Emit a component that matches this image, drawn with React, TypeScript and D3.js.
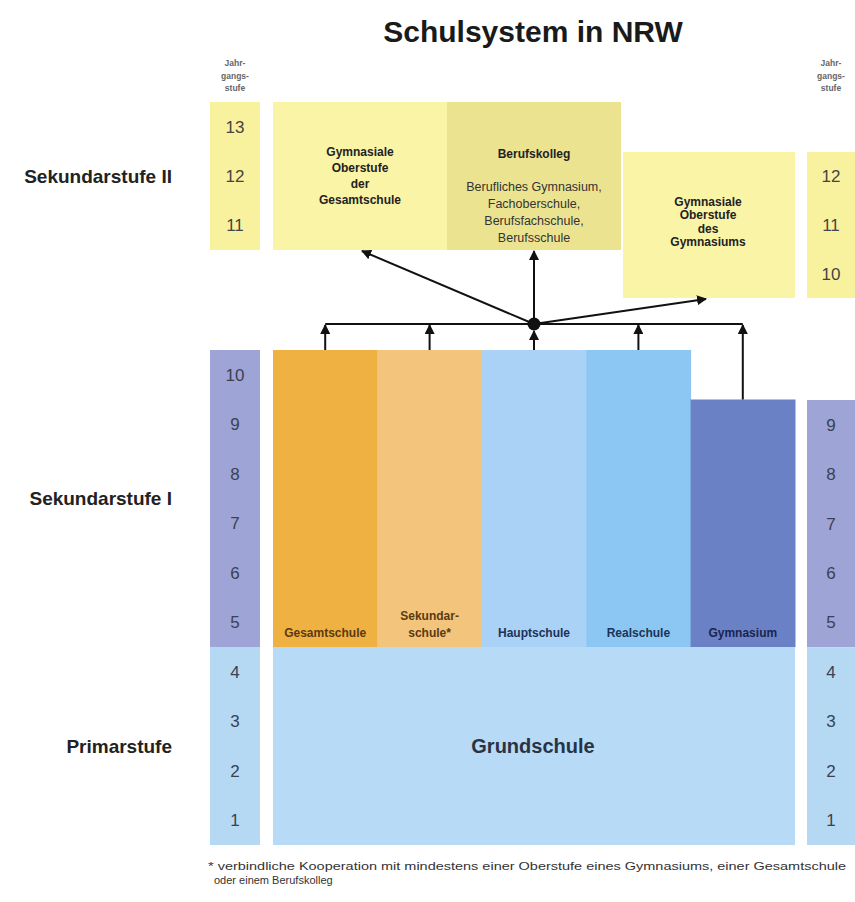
import * as d3 from "d3";

// grades shown in the side columns
const leftLowerGrades = [1, 2, 3, 4, 5, 6, 7, 8, 9, 10];
const leftUpperGrades = [11, 12, 13];
const rightLowerGrades = [1, 2, 3, 4, 5, 6, 7, 8, 9];
const rightUpperGrades = [10, 11, 12];
const lastPrimaryGrade = 4;

// Sekundarstufe I school types
const secINames = ["Gesamtschule", "Sekundarschule", "Hauptschule", "Realschule", "Gymnasium"];
const secILabels = [["Gesamtschule"], ["Sekundar-", "schule*"], ["Hauptschule"], ["Realschule"], ["Gymnasium"]];
const secILastGrade = [10, 10, 10, 10, 9];
const secIColors = ["#f0b143", "#f3c57c", "#a9d2f6", "#8cc6f2", "#6b81c5"];
const secILabelColors = ["#5a3a12", "#5a3a12", "#1c3358", "#1c3358", "#1a2450"];

// Sekundarstufe II
const secIINames = ["Oberstufe Gesamtschule", "Berufskolleg", "Oberstufe Gymnasium"];
const secIITitles = [
  ["Gymnasiale", "Oberstufe", "der", "Gesamtschule"],
  ["Berufskolleg"],
  ["Gymnasiale", "Oberstufe", "des", "Gymnasiums"],
];
const secIISubLines = [[], ["Berufliches Gymnasium,", "Fachoberschule,", "Berufsfachschule,", "Berufsschule"], []];
const secIIGrades = [[11, 13], [11, 13], [10, 12]];
const secIISide = ["left", "left", "right"];
const secIIColors = ["#faf4a6", "#ece391", "#faf4a6"];

const stageLabels = ["Sekundarstufe II", "Sekundarstufe I", "Primarstufe"];
const headerLines = ["Jahr-", "gangs-", "stufe"];
const footnote = [
  "* verbindliche  Kooperation  mit  mindestens  einer  Oberstufe  eines  Gymnasiums,  einer  Gesamtschule",
  "oder einem Berufskolleg",
];

const W = 855;
const H = 902;
const font = "Arial, 'Liberation Sans', Helvetica, sans-serif";

type Col = { x: number; w: number; cx: number };

function GradeColumn({
  col,
  lower,
  upper,
  yLow,
  yUp,
}: {
  col: Col;
  lower: number[];
  upper: number[];
  yLow: d3.ScaleLinear<number, number>;
  yUp: d3.ScaleLinear<number, number>;
}) {
  const upMin = d3.min(upper)!;
  const upMax = d3.max(upper)!;
  const lowMax = d3.max(lower)!;
  return (
    <g>
      <rect x={col.x} y={yUp(upMax)} width={col.w} height={yUp(upMin - 1) - yUp(upMax)} fill="#f8f29f" />
      <rect x={col.x} y={yLow(lowMax)} width={col.w} height={yLow(lastPrimaryGrade) - yLow(lowMax)} fill="#9ea5d6" />
      <rect x={col.x} y={yLow(lastPrimaryGrade)} width={col.w} height={yLow(0) - yLow(lastPrimaryGrade)} fill="#b5d9f3" />
      {upper.map((g) => (
        <text key={`u${g}`} x={col.cx} y={(yUp(g) + yUp(g - 1)) / 2} dy="0.35em" textAnchor="middle" fontSize={17} fill="#444">
          {g}
        </text>
      ))}
      {lower.map((g) => (
        <text key={`l${g}`} x={col.cx} y={(yLow(g) + yLow(g - 1)) / 2} dy="0.35em" textAnchor="middle" fontSize={17} fill="#3a4152">
          {g}
        </text>
      ))}
    </g>
  );
}

export default function App() {
  // y scales: grade boundary -> pixel
  const yLowL = d3.scaleLinear().domain([0, 10]).range([845, 350]);
  const yUpL = d3.scaleLinear().domain([10, 13]).range([250, 102]);
  const yLowR = d3.scaleLinear().domain([0, 9]).range([845, 400]);
  const yUpR = d3.scaleLinear().domain([9, 12]).range([298, 152]);

  const x = d3.scaleBand<string>().domain(secINames).range([273, 795]).padding(0);
  const x2 = d3.scaleBand<string>().domain(secIINames).range([273, 795]).padding(0);

  const colL = { x: 210, w: 50, cx: 235 };
  const colR = { x: 807, w: 50, cx: 831 };

  const lineY = 324;
  const dot = { x: (x("Hauptschule") ?? 0) + x.bandwidth() / 2, y: lineY };
  const centers = secINames.map((n) => (x(n) ?? 0) + x.bandwidth() / 2);

  const boxTop = (i: number) => (secIISide[i] === "left" ? yUpL : yUpR)(secIIGrades[i][1]);
  const boxBottom = (i: number) => (secIISide[i] === "left" ? yUpL : yUpR)(secIIGrades[i][0] - 1);

  const grundTop = yLowL(lastPrimaryGrade);

  return (
    <svg width={W} height={H} style={{ display: "block", position: "absolute", left: 0, top: 0 }} fontFamily={font}>
      <defs>
        <marker id="ah" viewBox="0 0 10 10" refX="9" refY="5" markerWidth="10" markerHeight="10" markerUnits="userSpaceOnUse" orient="auto">
          <path d="M0,0 L10,5 L0,10 z" fill="#111" />
        </marker>
      </defs>
      <rect width={W} height={H} fill="#fff" />

      <text x={533} y={42} textAnchor="middle" fontSize={30} fontWeight="bold" fill="#1a1a1a">
        Schulsystem in NRW
      </text>

      {/* Jahrgangsstufe headers */}
      {[colL.cx, colR.cx].map((cx, k) =>
        headerLines.map((t, i) => (
          <text key={`h${k}${i}`} x={cx} y={66 + i * 12.5} textAnchor="middle" fontSize={8.5} fontWeight="bold" fill="#666">
            {t}
          </text>
        ))
      )}

      <GradeColumn col={colL} lower={leftLowerGrades} upper={leftUpperGrades} yLow={yLowL} yUp={yUpL} />
      <GradeColumn col={colR} lower={rightLowerGrades} upper={rightUpperGrades} yLow={yLowR} yUp={yUpR} />

      {/* stage labels */}
      {stageLabels.map((t, i) => {
        const y = i === 0 ? yUpL(11.5) : i === 1 ? yLowL(7) : yLowL(2);
        return (
          <text key={t} x={172} y={y} dy="0.35em" textAnchor="end" fontSize={19} fontWeight="bold" fill="#222">
            {t}
          </text>
        );
      })}

      {/* Grundschule */}
      <rect x={273} y={grundTop} width={795 - 273} height={yLowL(0) - grundTop} fill="#b7dbf6" />
      <text x={533} y={yLowL(2)} dy="0.35em" textAnchor="middle" fontSize={20} fontWeight="bold" fill="#2a3344">
        Grundschule
      </text>

      {/* Sekundarstufe I */}
      {secINames.map((n, i) => {
        const top = yLowL(secILastGrade[i]);
        const lines = secILabels[i];
        return (
          <g key={n}>
            <rect x={x(n)} y={top} width={x.bandwidth() + 0.5} height={grundTop - top} fill={secIColors[i]} />
            {lines.map((t, j) => (
              <text
                key={t}
                x={centers[i]}
                y={633 - (lines.length - 1 - j) * 17}
                dy="0.35em"
                textAnchor="middle"
                fontSize={12}
                fontWeight="bold"
                fill={secILabelColors[i]}
              >
                {t}
              </text>
            ))}
          </g>
        );
      })}

      {/* Sekundarstufe II */}
      {secIINames.map((n, i) => {
        const top = boxTop(i);
        const bottom = boxBottom(i);
        const cx = (x2(n) ?? 0) + x2.bandwidth() / 2;
        const titles = secIITitles[i];
        const subs = secIISubLines[i];
        const spacing = i === 0 ? 16 : 13.5;
        const mid = i === 0 ? 176 : 222;
        return (
          <g key={n}>
            <rect x={(x2(n) ?? 0) + (i === 2 ? 2 : 0)} y={top} width={x2.bandwidth() - (i === 2 ? 2 : 0)} height={bottom - top} fill={secIIColors[i]} />
            {subs.length === 0
              ? titles.map((t, j) => (
                  <text
                    key={t + j}
                    x={cx}
                    y={mid + (j - (titles.length - 1) / 2) * spacing}
                    dy="0.35em"
                    textAnchor="middle"
                    fontSize={12}
                    fontWeight="bold"
                    fill="#222"
                  >
                    {t}
                  </text>
                ))
              : [
                  <text key="t" x={cx} y={top + 52} dy="0.35em" textAnchor="middle" fontSize={12} fontWeight="bold" fill="#222">
                    {titles[0]}
                  </text>,
                  ...subs.map((t, j) => (
                    <text key={t} x={cx} y={top + 85 + j * 17} dy="0.35em" textAnchor="middle" fontSize={12.5} fill="#333">
                      {t}
                    </text>
                  )),
                ]}
          </g>
        );
      })}

      {/* arrows from Sek I up to the collector line */}
      <line x1={centers[0]} x2={centers[4]} y1={lineY} y2={lineY} stroke="#111" strokeWidth={2} />
      {secINames.map((n, i) => (
        <line
          key={`a${n}`}
          x1={centers[i]}
          x2={centers[i]}
          y1={yLowL(secILastGrade[i])}
          y2={i === 2 ? lineY + 7 : lineY + 1}
          stroke="#111"
          strokeWidth={2}
          markerEnd="url(#ah)"
        />
      ))}

      {/* arrows from the dot to Sek II */}
      {secIINames.map((n, i) => {
        const cx = (x2(n) ?? 0) + x2.bandwidth() / 2;
        return (
          <line
            key={`b${n}`}
            x1={dot.x}
            y1={dot.y}
            x2={cx + (i === 0 ? 2 : i === 2 ? -2 : 0)}
            y2={boxBottom(i) + 1}
            stroke="#111"
            strokeWidth={2}
            markerEnd="url(#ah)"
          />
        );
      })}
      <circle cx={dot.x} cy={dot.y} r={6.5} fill="#111" />

      {/* footnote */}
      <text x={208} y={870} fontSize={11} fill="#333" textLength={638} lengthAdjust="spacingAndGlyphs">
        {footnote[0]}
      </text>
      <text x={214} y={884} fontSize={11} fill="#333">
        {footnote[1]}
      </text>
    </svg>
  );
}
